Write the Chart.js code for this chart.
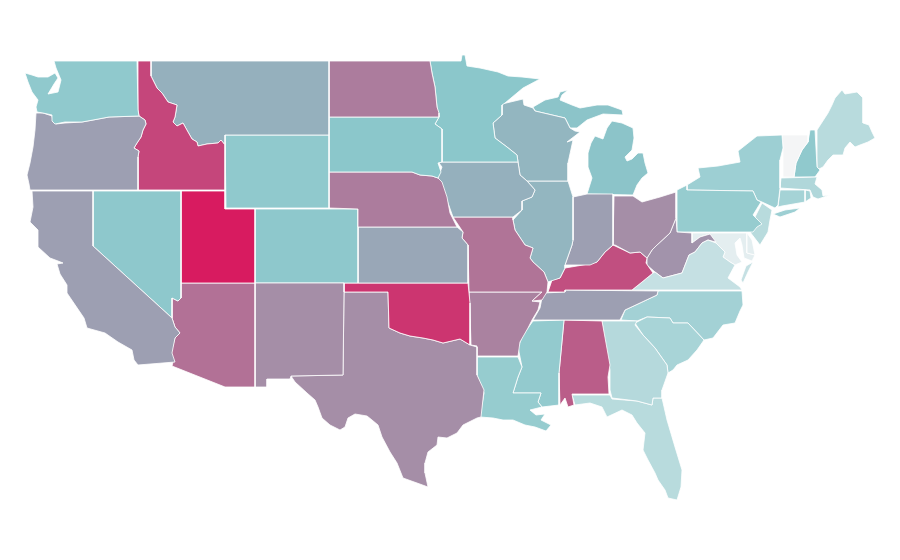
<!DOCTYPE html>
<html><head><meta charset="utf-8">
<style>html,body{margin:0;padding:0;background:#fff}canvas{display:block}</style>
<script src="https://cdn.jsdelivr.net/npm/chart.js@4"></script>
</head><body><canvas id="c" width="900" height="560"></canvas>
<script>
const stateNames=["Washington","Oregon","California","Nevada","Idaho","Montana","Wyoming","Utah","Arizona","New Mexico","North Dakota","South Dakota","Nebraska","Colorado","Kansas","Oklahoma","Texas","Minnesota","Iowa","Missouri","Arkansas","Louisiana","Wisconsin","Illinois","Indiana","Michigan","Ohio","Kentucky","Tennessee","Mississippi","Alabama","Georgia","Florida","South Carolina","North Carolina","Virginia","West Virginia","Pennsylvania","New York","New Jersey","Delaware","Maryland","Connecticut","Rhode Island","Massachusetts","Vermont","New Hampshire","Maine"];
const stateValues=[38,54,54,39,85,48,38,100,70,60,66,40,66,39,51,91,60,40,48,69,64,36,46,46,54,41,60,82,54,37,77,24,23,29,31,18,58,36,33,23,6,6,30,30,26,0,38,23];
// Map outlines in map units, one list of rings per state.
const stateOutlines=[
[[[54,61],[137,61],[138,110],[139,116],[109,117],[93,120],[82,122],[65,122],[55,124],[52,121],[52,115],[43,113],[37,112],[36,107],[38,100],[32,92],[28,82],[25,73],[32,75],[38,77],[48,77],[55,73],[58,78],[54,84],[48,94],[58,92],[61,80],[56,68]]],
[[[36,113],[43,113],[52,116],[53,122],[56,124],[65,123],[82,122],[93,120],[109,117],[139,116],[145,120],[146,124],[143,130],[141,137],[137,143],[134,148],[139,151],[138,157],[138,190],[30,190],[29,184],[27,175],[30,163],[33,147],[35,130]]],
[[[32,191],[93,191],[93,246],[172,318],[175,327],[180,333],[175,338],[172,353],[175,362],[138,365],[134,360],[132,350],[118,342],[105,333],[87,328],[84,318],[67,293],[67,285],[60,274],[57,264],[63,263],[58,261],[50,258],[38,247],[38,230],[30,222],[33,207]]],
[[[93,191],[181,191],[181,298],[178,301],[172,298],[172,318],[93,246]]],
[[[138,61],[151,61],[151,76],[152,78],[157,88],[162,93],[168,102],[177,105],[175,117],[173,122],[177,126],[183,123],[188,132],[192,139],[197,142],[198,146],[207,144],[218,143],[221,140],[225,145],[225,190],[138,190],[138,157],[139,151],[134,148],[137,143],[141,137],[143,130],[146,124],[145,120],[139,116],[138,110]]],
[[[151,61],[329,61],[329,135],[225,135],[225,145],[221,140],[218,143],[207,144],[198,146],[197,142],[192,139],[188,132],[183,123],[177,126],[173,122],[175,117],[177,105],[168,102],[162,93],[157,88],[152,78],[151,76]]],
[[[225,135],[329,135],[329,208],[226,208]]],
[[[181,191],[225,191],[225,209],[255,209],[255,283],[181,283]]],
[[[181,283],[255,283],[255,387],[225,387],[172,366],[173,362],[171,353],[175,338],[180,333],[175,327],[172,318],[172,298],[178,301],[181,298]]],
[[[255,283],[344,283],[344,292],[343,375],[291,376],[290,379],[267,379],[267,387],[255,387]]],
[[[329,61],[430,61],[432,73],[435,87],[437,107],[439,113],[439,117],[329,117]]],
[[[329,117],[439,117],[435,124],[442,129],[442,162],[438,163],[441,172],[438,178],[432,176],[420,175],[412,172],[329,172]]],
[[[329,172],[412,172],[420,175],[432,176],[438,178],[442,182],[447,197],[450,213],[457,227],[358,227],[358,209],[329,208]]],
[[[255,209],[358,209],[358,283],[255,283]]],
[[[358,227],[457,227],[463,232],[462,238],[468,245],[468,283],[358,283]]],
[[[344,283],[468,283],[470,303],[470,345],[460,339],[443,343],[433,340],[423,338],[410,336],[400,333],[389,328],[388,292],[344,292]]],
[[[344,292],[388,292],[389,328],[400,333],[410,336],[423,338],[433,340],[443,343],[460,339],[470,345],[477,347],[477,375],[484,390],[481,417],[477,418],[463,425],[457,433],[447,438],[438,437],[437,445],[428,452],[425,463],[425,473],[428,487],[417,483],[403,478],[397,463],[390,452],[382,437],[378,425],[372,420],[367,416],[355,414],[348,418],[345,427],[340,430],[330,425],[322,418],[318,407],[315,400],[307,393],[295,382],[291,376],[343,375]]],
[[[430,61],[461,61],[462,55],[465,55],[467,66],[480,68],[498,72],[508,76],[522,77],[540,79],[523,88],[505,103],[502,105],[502,115],[493,123],[495,138],[507,147],[517,155],[518,162],[442,162],[442,129],[435,124],[439,117],[437,107],[435,87],[432,73]]],
[[[442,162],[518,162],[520,175],[527,181],[535,190],[532,197],[522,201],[522,210],[513,217],[453,217],[448,203],[438,178],[442,167],[439,163]]],
[[[453,217],[513,217],[513,220],[515,230],[525,245],[533,248],[530,258],[533,262],[544,272],[548,282],[547,292],[542,300],[532,301],[542,292],[469,292],[468,245],[462,238],[463,232]]],
[[[469,292],[542,292],[532,301],[540,302],[538,310],[532,320],[528,328],[520,342],[518,356],[477,356],[477,346],[471,345],[470,313]]],
[[[477,357],[518,357],[522,367],[518,377],[513,393],[541,393],[538,402],[542,407],[530,410],[536,415],[545,414],[541,420],[551,425],[546,431],[535,427],[525,425],[513,420],[503,420],[493,418],[480,417],[484,393],[477,375]]],
[[[502,104],[523,99],[524,105],[533,108],[535,111],[565,118],[570,128],[575,131],[580,132],[567,142],[573,140],[568,163],[568,181],[527,181],[520,175],[518,162],[517,155],[507,147],[495,138],[493,123],[502,115]]],
[[[527,181],[568,181],[573,197],[573,240],[572,245],[565,265],[565,268],[560,278],[548,282],[544,272],[533,262],[530,258],[533,248],[525,245],[515,230],[513,220],[522,210],[522,201],[532,197],[535,190]]],
[[[573,197],[587,194],[613,194],[613,245],[605,252],[597,262],[590,265],[583,265],[565,265],[572,245],[573,240]]],
[[[533,107],[545,100],[558,97],[560,92],[568,90],[562,95],[560,100],[572,105],[580,108],[597,105],[608,105],[622,110],[623,115],[603,114],[587,120],[577,128],[570,128],[565,118],[535,111]],[[612,121],[622,123],[633,128],[634,138],[632,150],[625,157],[627,161],[632,159],[638,153],[643,153],[645,163],[648,173],[642,178],[637,185],[633,195],[587,194],[592,178],[588,167],[588,153],[591,143],[595,136],[603,139],[607,128]]],
[[[614,196],[633,196],[642,202],[660,197],[676,192],[676,218],[670,233],[657,245],[652,250],[647,258],[640,252],[630,253],[615,245],[613,245]]],
[[[548,292],[552,280],[560,278],[565,268],[583,265],[597,262],[605,252],[613,245],[630,253],[640,252],[647,258],[646,263],[653,273],[642,282],[632,290],[565,290],[565,292]]],
[[[543,293],[565,292],[565,290],[658,291],[657,295],[640,303],[625,310],[620,320],[533,320],[540,308]]],
[[[533,321],[564,320],[559,373],[559,405],[542,407],[538,402],[541,393],[513,393],[518,377],[522,367],[518,347],[523,335],[528,328]]],
[[[564,320],[602,321],[610,365],[608,377],[609,394],[572,394],[574,405],[568,407],[565,398],[560,405],[559,373]]],
[[[602,321],[637,321],[635,325],[643,335],[655,348],[667,365],[668,373],[662,390],[662,398],[653,398],[652,405],[637,401],[612,398],[610,390],[610,370],[605,343]]],
[[[572,395],[610,395],[612,399],[637,401],[652,405],[653,398],[662,398],[667,420],[675,447],[682,470],[681,487],[677,500],[668,498],[665,490],[658,480],[655,473],[648,460],[643,450],[645,433],[637,423],[632,415],[622,410],[607,417],[602,407],[590,403],[575,405]]],
[[[635,323],[647,317],[670,318],[673,323],[688,323],[704,340],[697,350],[688,360],[677,365],[673,370],[668,373],[667,365],[655,348],[643,335]]],
[[[621,320],[625,310],[640,303],[657,295],[658,291],[742,291],[743,305],[740,311],[735,323],[723,325],[713,338],[704,340],[688,323],[673,323],[670,318],[647,317],[637,321]]],
[[[632,290],[642,282],[653,273],[655,272],[663,278],[682,273],[689,255],[695,252],[702,243],[708,240],[716,243],[720,247],[725,252],[723,257],[730,262],[735,265],[728,278],[740,287],[742,290]],[[753,262],[748,272],[743,283],[741,280],[746,266]]],
[[[647,258],[652,250],[657,245],[670,233],[676,218],[677,232],[692,233],[692,243],[700,237],[710,234],[716,242],[708,240],[702,243],[695,252],[689,255],[682,273],[663,278],[655,272],[647,265]]],
[[[677,190],[687,185],[687,190],[753,191],[757,200],[761,202],[753,215],[762,224],[757,227],[753,232],[677,232]]],
[[[687,185],[700,177],[698,168],[718,166],[740,162],[738,151],[757,136],[782,135],[783,148],[780,160],[780,188],[778,205],[775,208],[762,202],[757,200],[753,191],[687,190]],[[773,214],[785,210],[800,208],[795,212],[780,217]]],
[[[762,203],[772,210],[770,220],[768,232],[760,245],[750,232],[760,223],[755,217]]],
[[[747,233],[752,240],[755,255],[747,253]]],
[[[692,233],[747,233],[747,253],[755,255],[752,261],[744,258],[742,245],[740,238],[735,243],[737,255],[742,262],[735,265],[730,262],[723,257],[725,252],[720,247],[716,243],[710,234],[700,237],[692,243]]],
[[[780,190],[805,190],[805,202],[782,206],[778,207]]],
[[[805,190],[810,191],[811,198],[805,202]]],
[[[781,178],[817,177],[815,184],[822,190],[823,196],[830,195],[818,199],[813,197],[810,190],[780,188]]],
[[[782,135],[808,135],[808,142],[802,150],[796,163],[794,177],[783,177],[783,148]]],
[[[810,130],[815,130],[817,167],[820,170],[815,177],[794,177],[796,163],[802,150],[808,142]]],
[[[817,130],[828,113],[832,105],[835,98],[842,90],[845,94],[857,92],[863,98],[863,123],[869,125],[872,132],[875,138],[868,142],[860,145],[855,147],[850,142],[845,148],[843,155],[833,155],[828,160],[823,167],[819,169],[817,167]]]
];
const lowColor=[244,245,246], midColor=[139,199,203], highColor=[216,27,96];
function colorFor(v){
  const a=v<40?lowColor:midColor, b=v<40?midColor:highColor, t=v<40?v/40:(v-40)/60;
  return `rgb(${a.map((c,i)=>Math.round(c+(b[i]-c)*t)).join(",")})`;
}
const datasets=[];
stateNames.forEach((name,i)=>{
  stateOutlines[i].forEach(ring=>{
    const pts=ring.concat([ring[0]]).map(p=>({x:p[0],y:p[1]}));
    datasets.push({label:name,data:pts,showLine:true,fill:'shape',backgroundColor:colorFor(stateValues[i]),borderColor:'#ffffff',borderWidth:0.8,pointRadius:0,pointHoverRadius:0,tension:0,borderJoinStyle:'round'});
  });
});
new Chart(document.getElementById('c'),{type:'scatter',data:{datasets},options:{
  responsive:false,animation:false,layout:{padding:0},
  plugins:{legend:{display:false},tooltip:{enabled:false},title:{display:false}},
  scales:{x:{type:'linear',min:0,max:900,display:false},y:{type:'linear',min:0,max:560,reverse:true,display:false}}
}});
</script></body></html>
